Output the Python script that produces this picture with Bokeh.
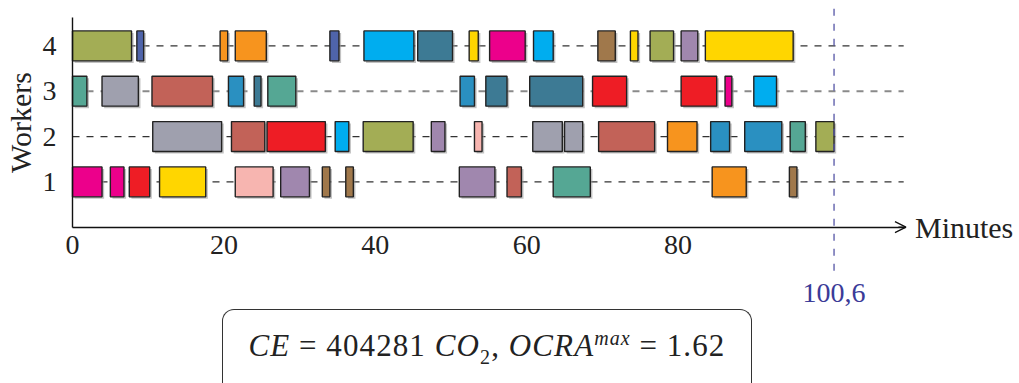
from bokeh.plotting import figure
from bokeh.models import (ColumnDataSource, FixedTicker, Label, Arrow, OpenHead, Div)
from bokeh.layouts import column
from bokeh.embed import file_html
from bokeh.resources import INLINE

# ---------------- data ----------------
palette = {
    "olive": "#a3ad55", "slate": "#4f64aa", "orange": "#f7941e", "cyan": "#00adef",
    "steel": "#3d7a94", "yellow": "#ffd600", "magenta": "#ec008b", "brown": "#a0784b",
    "purple": "#a087ae", "teal": "#55a794", "gray": "#9fa0ae", "rust": "#c26258",
    "blue": "#2a90c1", "red": "#ee1d25", "pink": "#f7b5b0",
}

w4_start = [0, 8.5, 19.5, 21.5, 34.0, 38.5, 45.6, 52.4, 55.1, 60.9, 69.4, 73.7, 76.3, 80.4, 83.6]
w4_end   = [7.8, 9.4, 20.5, 25.6, 35.2, 45.1, 50.2, 53.6, 59.8, 63.5, 71.7, 74.7, 79.4, 82.6, 95.2]
w4_task  = ["olive", "slate", "orange", "orange", "slate", "cyan", "steel", "yellow", "magenta",
            "cyan", "brown", "yellow", "olive", "purple", "yellow"]

w3_start = [0, 3.9, 10.5, 20.6, 24.0, 25.8, 51.2, 54.6, 60.4, 68.7, 80.4, 86.2, 90.0]
w3_end   = [1.9, 8.7, 18.5, 22.6, 24.9, 29.5, 53.1, 57.4, 67.4, 73.2, 85.1, 87.1, 93.0]
w3_task  = ["teal", "gray", "rust", "blue", "steel", "teal", "blue", "steel", "steel", "red",
            "red", "magenta", "cyan"]

w2_start = [10.6, 21.0, 25.7, 34.7, 38.4, 47.4, 53.1, 60.8, 65.0, 69.5, 78.6, 84.3, 88.8, 94.8, 98.2]
w2_end   = [19.7, 25.4, 33.4, 36.5, 45.0, 49.2, 54.1, 64.7, 67.4, 76.9, 82.5, 86.8, 93.7, 96.8, 100.6]
w2_task  = ["gray", "rust", "red", "cyan", "olive", "purple", "pink", "gray", "gray", "rust",
            "orange", "blue", "blue", "teal", "olive"]

w1_start = [0, 5.0, 7.5, 11.5, 21.5, 27.5, 33.0, 36.1, 51.1, 57.4, 63.5, 84.5, 94.7]
w1_end   = [3.9, 6.8, 10.2, 17.6, 26.5, 31.3, 34.0, 37.1, 55.8, 59.3, 68.4, 89.0, 95.7]
w1_task  = ["magenta", "magenta", "red", "yellow", "pink", "purple", "brown", "brown", "purple",
            "rust", "teal", "orange", "brown"]

workers = [1, 2, 3, 4]
x_ticks = [0, 20, 40, 60, 80]
makespan = 100.6
makespan_label = "100,6"
x_max = 110.1
y_max = 4.63
ce_value = "404281"
ocra_max = "1.62"

# ---------------- build ----------------
rows = {1: (w1_start, w1_end, w1_task), 2: (w2_start, w2_end, w2_task),
        3: (w3_start, w3_end, w3_task), 4: (w4_start, w4_end, w4_task)}
lefts, rights, ys, colors = [], [], [], []
for w in workers:
    s, e, t = rows[w]
    lefts += s
    rights += e
    ys += [w] * len(s)
    colors += [palette[k] for k in t]

H = 0.33
src = ColumnDataSource(dict(left=lefts, right=rights, top=[y + H for y in ys],
                            bottom=[y - H for y in ys], color=colors,
                            sl=[l + 0.28 for l in lefts], sr=[r + 0.28 for r in rights],
                            st=[y + H - 0.045 for y in ys], sb=[y - H - 0.045 for y in ys]))

PXX = 7.57   # px per minute
PXY = 45.33  # px per worker row
W, HGT = 1019, 310
x0 = -72 / PXX
y1 = 226.7 / PXY
p = figure(width=W, height=HGT, x_range=(x0, x0 + W / PXX), y_range=(y1 - HGT / PXY, y1),
           output_backend="svg", toolbar_location=None, min_border=0)
p.outline_line_color = None
p.grid.visible = False
p.background_fill_color = "white"
p.border_fill_color = "white"

# row dashed lines
line_cols = ["#333333" if w != 3 else "#8a8a8a" for w in workers]
line_w = [1.2 if w != 3 else 2.0 for w in workers]
p.segment(x0=[0] * 4, x1=[x_max - 0.3] * 4, y0=workers, y1=workers,
          line_color=line_cols, line_width=line_w, line_dash="7 7")

# shadows + bars
p.quad(left="sl", right="sr", top="st", bottom="sb", source=src,
       fill_color="#9a9a9a", fill_alpha=0.6, line_color=None)
p.quad(left="left", right="right", top="top", bottom="bottom", source=src,
       fill_color="color", line_color="#222222", line_width=1.4)

FONT = "Liberation Serif"
p.xaxis.ticker = FixedTicker(ticks=x_ticks)
p.yaxis.ticker = FixedTicker(ticks=workers)
p.xaxis.fixed_location = 0
p.yaxis.fixed_location = 0
p.xaxis.bounds = (0, x_max)
p.yaxis.bounds = (0, y_max)
for ax in (p.xaxis, p.yaxis):
    ax.major_tick_line_color = None
    ax.minor_tick_line_color = None
    ax.axis_line_color = "#111111"
    ax.axis_line_width = 1.4
    ax.major_label_text_font = FONT
    ax.major_label_text_font_size = "28px"
    ax.major_label_text_color = "#222222"
p.xaxis.major_label_standoff = 3
p.yaxis.major_label_standoff = 10
p.yaxis.axis_label = "Workers"
p.yaxis.axis_label_text_font = FONT
p.yaxis.axis_label_text_font_size = "30px"
p.yaxis.axis_label_text_font_style = "normal"
p.yaxis.axis_label_text_color = "#222222"
p.yaxis.axis_label_standoff = 3

# x-axis arrow head
p.add_layout(Arrow(end=OpenHead(size=11, line_width=1.3, line_color="#111111"),
                   x_start=x_max - 1, y_start=0, x_end=x_max, y_end=0,
                   line_color="#111111", line_width=1.4))
p.add_layout(Label(x=x_max, y=0, text="Minutes", x_offset=9, text_baseline="middle",
                   text_align="left", text_font=FONT, text_font_size="30px",
                   text_color="#222222"))

# makespan line
p.add_layout(Arrow(end=None, x_start=makespan, y_start=4.82, x_end=makespan, y_end=-0.96,
                   line_color="#5555a5", line_width=1.3, line_dash="7 8"))
p.add_layout(Label(x=makespan, y=-1.46, text=makespan_label, text_baseline="middle",
                   text_align="center", text_font=FONT, text_font_size="28px",
                   text_color="#3b3b98"))

eq = '<span style="margin:0 0.28em">=</span>'
html_box = (
    '<div style="margin-left:217px;margin-top:-6px;width:530px;height:80px;box-sizing:border-box;'
    'border:1.4px solid #333;border-bottom:none;border-radius:12px 12px 0 0;'
    'display:flex;align-items:flex-start;justify-content:center;padding-top:14px;'
    'font-family:\'Liberation Serif\';font-size:31px;color:#222;letter-spacing:1.1px;">'
    '<span><i>CE</i>' + eq + ce_value + ' <i>CO</i><sub style="font-size:20px">2</sub>, '
    '<i>OCRA</i><sup style="font-size:20px"><i>max</i></sup>' + eq + ocra_max + '</span></div>'
)
div = Div(text=html_box, width=1019, height=72)

layout = column(p, div, spacing=0)
open("out.html", "w").write(file_html(layout, INLINE))
